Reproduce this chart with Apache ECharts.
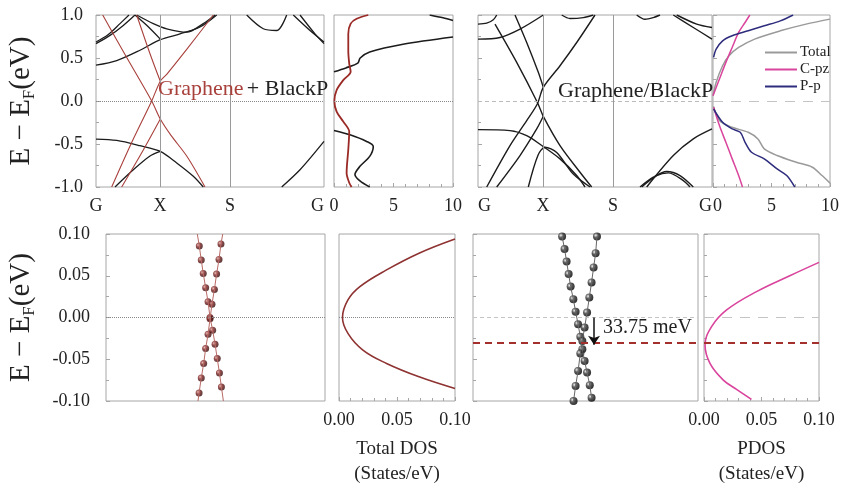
<!DOCTYPE html>
<html>
<head>
<meta charset="utf-8">
<script src="https://cdn.jsdelivr.net/npm/echarts@6/dist/echarts.min.js"></script>
<style>
html, body { margin: 0; padding: 0; background: #fff; }
#main { width: 842px; height: 490px; }
</style>
</head>
<body>
<div id="main"></div>
<script>
// k-path positions of the high-symmetry points (G, X, S, G)
var kTicksA = [0, 64, 134, 228];
var kTicksB = [0, 65, 135, 234];
var kNames = ['G', 'X', 'S', 'G'];

// ---- Graphene + BlackP bands (k, E) ----
var redA1 = [[6.7, 1.0], [30, 0.52], [55.7, 0], [64.3, -0.21], [75, -0.4], [90.7, -0.64], [109, -1.0]];
var redA2 = [[15.7, -1.0], [35, -0.5], [55.7, 0], [64.3, 0.23], [70.7, 0.31], [90.7, 0.6], [117.3, 1.0]];
var redA3 = [[40.7, 1.0], [54, 0.55], [64.3, 0.23]];
var redA4 = [[25.7, -1.0], [47.3, -0.57], [64.3, -0.21]];
var blkA1 = [[0, 0.667], [14, 0.763], [27.3, 0.879], [39, 1.0]];
var blkA1b = [[0, 0.686], [12, 0.77], [24, 0.9], [33, 1.0]];
var blkA2 = [[0, 0.416], [20.7, 0.47], [44, 0.59], [64.3, 0.713], [84, 0.78], [104, 0.86], [120.7, 1.0]];
var blkA3 = [[39, 1.0], [50.7, 0.88], [64.3, 0.72]];
var blkA4 = [[40.7, 1.0], [57.3, 0.9], [70.7, 0.84], [90.7, 0.80], [107.3, 0.9], [119, 1.0]];
var blkA5 = [[0, -0.443], [20.7, -0.459], [44, -0.52], [64.3, -0.586], [80.7, -0.72], [97.3, -0.875], [107.3, -1.0]];
var blkA6 = [[19, -1.0], [37.3, -0.8], [54, -0.64], [64.3, -0.586]];
var blkA7 = [[185.7, -1.0], [204, -0.8], [228, -0.47]];
var blkA8 = [[150.7, 1.0], [167.3, 0.84], [180.7, 0.82], [190.7, 1.0]];
var blkA9 = [[197.3, 1.0], [214, 0.82], [228, 0.686]];
var blkA10 = [[204, 1.0], [219, 0.78], [228, 0.667]];

// ---- total DOS, Graphene + BlackP (DOS, E) ----
var dosRed = [[2.88, 1.0], [1.9, 0.956], [1.4, 0.9], [1.2, 0.78], [1.2, 0.59], [1.28, 0.435], [1.4, 0.34], [0.78, 0.243], [0.22, 0.127], [0.03, 0], [0.22, -0.123], [0.78, -0.24], [1.28, -0.355], [1.2, -0.566], [1.06, -0.836], [1.28, -0.95], [1.48, -1.0]];
var dosBlkUp = [[0, 0.34], [1.0, 0.385], [2.0, 0.44], [2.2, 0.5], [3.0, 0.57], [5.8, 0.66], [10, 0.744]];
var dosBlkTop = [[8.04, 1.0], [9.16, 0.967], [10, 0.936]];
var dosBlkLow = [[0, -0.343], [1.34, -0.393], [2.74, -0.47], [3.3, -0.528], [3.0, -0.644], [2.18, -0.76], [1.76, -0.855], [2.18, -0.93], [3.0, -1.0]];

// ---- Graphene/BlackP bands (k, E) ----
var bandB = [
  [[17, 0.894], [38.7, 0.449], [59.3, -0.015], [65.3, -0.178], [82, -0.518], [102, -0.828], [113.7, -1.0]],
  [[8.7, -1.0], [32, -0.518], [48.7, -0.228], [59.3, -0.035], [65.3, 0.159], [82, 0.41], [98.7, 0.68], [117, 1.0]],
  [[37, 1.0], [48.7, 0.68], [60.3, 0.333], [65.3, 0.159]],
  [[18.7, -1.0], [42, -0.634], [58.7, -0.325], [65.3, -0.178]],
  [[0, -0.333], [32, -0.344], [48.7, -0.402], [65.3, -0.53], [82, -0.673], [98.7, -0.867], [107, -1.0]],
  [[50.3, -1.0], [60, -0.63], [67, -0.538], [78.7, -0.6], [95.3, -0.85], [112, -1.0]],
  [[0, 0.894], [8.7, 0.905], [15.3, 0.944], [18.7, 1.0]],
  [[0, 0.72], [22, 0.739], [42, 0.836], [65.3, 1.0]],
  [[83.7, 1.0], [92, 0.96], [105.3, 0.97], [115.3, 1.0]],
  [[158.7, 1.0], [167, 0.95], [175.3, 0.97], [182, 1.0]],
  [[195.3, 1.0], [215.3, 0.855], [234, 0.72]],
  [[198.7, 1.0], [218.7, 0.894], [234, 0.855]],
  [[162, -1.0], [175.3, -0.886], [188.7, -0.82], [202, -0.867], [215.3, -1.0]],
  [[163.7, -1.0], [178.7, -0.867], [190.3, -0.836], [205.3, -0.925], [212, -1.0]],
  [[168.7, -1.0], [195.3, -0.634], [215.3, -0.44], [234, -0.325]]
];

// ---- PDOS, Graphene/BlackP (DOS, E) ----
var totUp = [[0, 0.062], [0.27, 0.217], [0.82, 0.41], [1.37, 0.526], [2.19, 0.623], [3.56, 0.72], [5.75, 0.816], [7.95, 0.894], [10, 0.952]];
var totLow = [[0.05, -0.062], [0.55, -0.228], [1.64, -0.306], [3.01, -0.364], [3.84, -0.441], [4.38, -0.557], [5.48, -0.634], [7.12, -0.712], [8.49, -0.77], [9.32, -0.867], [10, -0.955]];
var cpzUp = [[0, 0.062], [0.55, 0.255], [1.1, 0.449], [1.64, 0.623], [2.19, 0.797], [2.74, 0.913], [3.15, 1.0]];
var cpzLow = [[0.05, -0.073], [0.55, -0.286], [1.1, -0.48], [1.64, -0.673], [2.19, -0.867], [2.52, -1.0]];
var ppUp = [[0.05, 0.507], [0.27, 0.603], [0.82, 0.7], [1.64, 0.758], [3.01, 0.816], [4.38, 0.874], [5.75, 0.932], [6.85, 1.0]];
var ppLow = [[0.05, -0.093], [0.82, -0.248], [1.64, -0.325], [2.33, -0.364], [2.74, -0.48], [3.29, -0.596], [4.38, -0.673], [5.48, -0.79], [6.3, -0.867], [6.99, -1.0]];

// ---- zoom near E_F: Graphene + BlackP (k, E) ----
var zoomA1 = [[42.6, 0.0856], [43.5, 0.0688], [44.4, 0.0528], [45.5, 0.0356], [46.6, 0.0188], [47.5, 0.0], [48.7, -0.0152], [49.8, -0.032], [50.8, -0.0492], [51.8, -0.0664], [52.7, -0.0832]];
var zoomA2 = [[52.5, 0.088], [51.6, 0.0696], [50.5, 0.052], [49.5, 0.0336], [48.4, 0.016], [47.5, -0.0016], [46.6, -0.02], [45.5, -0.0372], [44.6, -0.0552], [43.5, -0.0724], [42.5, -0.0904]];
var zoomA1Ends = [[41.7, 0.1], [53.6, -0.1]];
var zoomA2Ends = [[53.3, 0.1], [42.0, -0.1]];
var dosZoomA = [[0.1, 0.094], [0.069, 0.077], [0.041, 0.057], [0.018, 0.037], [0.0077, 0.021], [0.003, 0], [0.0077, -0.019], [0.0206, -0.039], [0.041, -0.055], [0.069, -0.071], [0.1, -0.085]];

// ---- zoom near E_F: Graphene/BlackP (k, E) ----
var zoomB1 = [[39.6, 0.097], [40.7, 0.082], [41.6, 0.067], [42.5, 0.052], [43.4, 0.037], [44.6, 0.022], [45.6, 0.007], [46.7, -0.008], [47.7, -0.023], [48.6, -0.038], [49.6, -0.052], [50.7, -0.066], [51.9, -0.081], [52.7, -0.096]];
var zoomB2 = [[55.1, 0.097], [54.5, 0.077], [53.6, 0.06], [52.7, 0.042], [51.7, 0.024], [50.7, 0.006], [49.6, -0.012], [48.6, -0.028], [47.7, -0.043], [46.7, -0.064], [45.6, -0.082], [44.7, -0.1]];
var pdosZoomB = [[0.1, 0.066], [0.0746, 0.05], [0.0457, 0.031], [0.0197, 0.009], [0.0066, -0.011], [0.0009, -0.033], [0.0052, -0.055], [0.0168, -0.075], [0.0283, -0.086], [0.0413, -0.098]];
var diracShift = -0.03375;
var arrowK = 53.8;

var FONT = 'Liberation Serif';
var AX = '#a6a6a6';
var RED = '#a8403c';
var BLK = '#1c1c1c';
var GRAY = '#9a9a9a';
var PINK = '#d9449c';
var NAVY = '#2e2c7c';

var chart = echarts.init(document.getElementById('main'));

function grid(l, t, w, h) {
  return { left: l, top: t, width: w, height: h, show: true, borderColor: AX, borderWidth: 1, backgroundColor: 'transparent' };
}

function labelStyle(extra) {
  var s = { fontFamily: FONT, fontSize: 18, color: '#222' };
  for (var k in extra) s[k] = extra[k];
  return s;
}

function kAxis(gi, ticks, max, alignMin, alignMax) {
  return {
    gridIndex: gi, type: 'value', min: 0, max: max,
    splitLine: { show: false }, axisLine: { show: false, onZero: false }, axisTick: { show: false },
    axisLabel: labelStyle({
      customValues: ticks, margin: 10,
      alignMinLabel: alignMin, alignMaxLabel: alignMax,
      formatter: function (v) { return kNames[ticks.indexOf(v)] || ''; }
    })
  };
}

function dosAxis(gi, max, interval, digits, alignMin, name) {
  var a = {
    gridIndex: gi, type: 'value', min: 0, max: max, interval: interval,
    splitLine: { show: false }, axisLine: { show: false, onZero: false },
    axisTick: { show: true, inside: true, length: 4, lineStyle: { color: AX } },
    minorTick: { show: true, splitNumber: 5, length: 3, lineStyle: { color: AX } },
    axisLabel: labelStyle({
      margin: 10, alignMinLabel: alignMin,
      formatter: function (v) { return (Math.abs(v) < 1e-9 ? 0 : v).toFixed(digits); }
    })
  };
  if (name) {
    a.name = name;
    a.nameLocation = 'middle';
    a.nameGap = 36;
    a.nameTextStyle = { fontFamily: FONT, fontSize: 19, color: '#222', lineHeight: 25, verticalAlign: 'top' };
  }
  return a;
}

function plainX(gi) {
  return { gridIndex: gi, type: 'value', min: 0, max: 100, splitLine: { show: false }, axisLine: { show: false, onZero: false }, axisTick: { show: false }, axisLabel: { show: false } };
}

function eAxis(gi, lim, interval, digits, showLabel, ticks, nameGap, margin) {
  var a = {
    gridIndex: gi, type: 'value', min: -lim, max: lim, interval: interval,
    splitLine: { show: false }, axisLine: { show: false, onZero: false },
    axisTick: { show: ticks, inside: true, length: 4, lineStyle: { color: AX } },
    minorTick: { show: ticks, splitNumber: 2, length: 3, lineStyle: { color: AX } },
    axisLabel: labelStyle({
      show: showLabel, margin: margin || 13,
      formatter: function (v) { return (Math.abs(v) < 1e-9 ? 0 : v).toFixed(digits); }
    })
  };
  if (nameGap) {
    a.name = '{e|E − E}{s|F}{e|(eV)}';
    a.nameLocation = 'middle';
    a.nameGap = nameGap;
    a.nameTextStyle = {
      fontFamily: FONT, fontSize: 29, color: '#222',
      rich: {
        e: { fontFamily: FONT, fontSize: 29, color: '#222', lineHeight: 34 },
        s: { fontFamily: FONT, fontSize: 17, color: '#222', lineHeight: 34, verticalAlign: 'bottom' }
      }
    };
  }
  return a;
}

function curve(gi, data, color, width, extra) {
  var s = {
    type: 'line', xAxisIndex: gi, yAxisIndex: gi, data: data,
    symbol: 'none', smooth: 0.3, silent: true,
    itemStyle: { color: color },
    lineStyle: { color: color, width: width }
  };
  if (extra) for (var k in extra) s[k] = extra[k];
  return s;
}

function hLine(y, color, type, width) { return { yAxis: y, lineStyle: { color: color, type: type, width: width || 1 } }; }
function vLine(x) { return { xAxis: x, lineStyle: { color: GRAY, type: 'solid', width: 1 } }; }
function marks(lines) { return { silent: true, symbol: ['none', 'none'], label: { show: false }, animation: false, data: lines }; }

var sphereRed = new echarts.graphic.RadialGradient(0.35, 0.35, 0.65, [
  { offset: 0, color: '#e8b0a8' }, { offset: 0.45, color: '#7a2020' }, { offset: 1, color: '#3a0c0c' }
]);
var sphereBlk = new echarts.graphic.RadialGradient(0.35, 0.35, 0.65, [
  { offset: 0, color: '#eeeeee' }, { offset: 0.45, color: '#333333' }, { offset: 1, color: '#000000' }
]);

var series = [];

// panel 0: Graphene + BlackP bands
series.push(curve(0, blkA5, BLK, 1.3, { markLine: marks([hLine(0, '#888', 'dotted'), vLine(kTicksA[1]), vLine(kTicksA[2])]) }));
[blkA1, blkA1b, blkA2, blkA3, blkA4, blkA6, blkA7, blkA8, blkA9, blkA10].forEach(function (d) { series.push(curve(0, d, BLK, 1.3)); });
[redA1, redA2, redA3, redA4].forEach(function (d) { series.push(curve(0, d, RED, 1.1)); });

// panel 1: total DOS
series.push(curve(1, dosBlkUp, BLK, 1.6, { markLine: marks([hLine(0, '#888', 'dotted')]) }));
series.push(curve(1, dosBlkTop, BLK, 1.6));
series.push(curve(1, dosBlkLow, BLK, 1.6));
series.push(curve(1, dosRed, '#9a2a26', 1.8));

// panel 2: Graphene/BlackP bands
bandB.forEach(function (d, i) {
  series.push(curve(2, d, BLK, 1.4, i === 0 ? { markLine: marks([hLine(0, '#bbb', [4, 3]), vLine(kTicksB[1]), vLine(kTicksB[2])]) } : null));
});

// panel 3: PDOS
series.push(curve(3, totUp, GRAY, 1.5, { name: 'Total', markLine: marks([hLine(0, '#c4c4c4', [10, 8])]) }));
series.push(curve(3, totLow, GRAY, 1.5, { name: 'Total' }));
series.push(curve(3, cpzUp, PINK, 1.5, { name: 'C-pz' }));
series.push(curve(3, cpzLow, PINK, 1.5, { name: 'C-pz' }));
series.push(curve(3, ppUp, NAVY, 1.5, { name: 'P-p' }));
series.push(curve(3, ppLow, NAVY, 1.5, { name: 'P-p' }));

// panel 4: zoom bands Graphene + BlackP
series.push(curve(4, [zoomA1Ends[0]].concat(zoomA1, [zoomA1Ends[1]]), '#b86a66', 1, { smooth: false, markLine: marks([hLine(0, '#888', 'dotted')]) }));
series.push(curve(4, [zoomA2Ends[0]].concat(zoomA2, [zoomA2Ends[1]]), '#b86a66', 1, { smooth: false }));
[zoomA1, zoomA2].forEach(function (d) {
  series.push({ type: 'scatter', xAxisIndex: 4, yAxisIndex: 4, data: d, symbolSize: 7, silent: true, itemStyle: { color: sphereRed } });
});

// panel 5: total DOS zoom
series.push(curve(5, dosZoomA, '#8e3232', 1.6, { smooth: 0.4, markLine: marks([hLine(0, '#888', 'dotted')]) }));

// panel 6: zoom bands Graphene/BlackP
series.push(curve(6, zoomB1, '#666', 1, { smooth: false, markLine: marks([hLine(0, '#c4c4c4', [4, 3]), hLine(diracShift, '#a3302c', [7, 5], 2)]) }));
series.push(curve(6, zoomB2, '#666', 1, {
  smooth: false,
  markLine: {
    silent: true, symbol: ['none', 'arrow'], symbolSize: 9, label: { show: false }, animation: false,
    lineStyle: { color: '#111', type: 'solid', width: 1.5 },
    data: [[{ coord: [arrowK, 0] }, { coord: [arrowK, diracShift + 0.001] }]]
  }
}));
[zoomB1, zoomB2].forEach(function (d) {
  series.push({ type: 'scatter', xAxisIndex: 6, yAxisIndex: 6, data: d, symbolSize: 8, silent: true, itemStyle: { color: sphereBlk } });
});

// panel 7: PDOS zoom
series.push(curve(7, pdosZoomB, PINK, 1.6, { smooth: 0.4, markLine: marks([hLine(0, '#c4c4c4', [10, 8]), hLine(diracShift, '#a3302c', [7, 5], 2)]) }));

var option = {
  animation: false,
  backgroundColor: '#fff',
  grid: [
    grid(96, 15, 228, 172),
    grid(334, 15, 119, 172),
    grid(478, 15, 234, 172),
    grid(713, 15, 120, 172),
    grid(106, 234, 219, 167),
    grid(339, 234, 116, 167),
    grid(473, 234, 225, 167),
    grid(704, 234, 115, 167)
  ],
  xAxis: [
    kAxis(0, kTicksA, 228, null, 'right'),
    dosAxis(1, 10, 5, 0, null, null),
    kAxis(2, kTicksB, 234, 'left', 'right'),
    dosAxis(3, 10, 5, 0, 'left', null),
    plainX(4),
    dosAxis(5, 0.1, 0.05, 2, null, 'Total DOS\n(States/eV)'),
    plainX(6),
    dosAxis(7, 0.1, 0.05, 2, null, 'PDOS\n(States/eV)')
  ],
  yAxis: [
    eAxis(0, 1, 0.5, 1, true, true, 58, 13),
    eAxis(1, 1, 0.5, 1, false, false),
    eAxis(2, 1, 0.5, 1, false, true),
    eAxis(3, 1, 0.5, 1, false, true),
    eAxis(4, 0.1, 0.05, 2, true, true, 68, 16),
    eAxis(5, 0.1, 0.05, 2, false, false),
    eAxis(6, 0.1, 0.05, 2, false, true),
    eAxis(7, 0.1, 0.05, 2, false, true)
  ],
  legend: {
    data: ['Total', 'C-pz', 'P-p'], orient: 'vertical', left: 760, top: 40,
    icon: 'rect', itemWidth: 32, itemHeight: 2, itemGap: 2, selectedMode: false,
    textStyle: { fontFamily: FONT, fontSize: 15, color: '#222', padding: [0, 0, 0, -2] }
  },
  graphic: [
    {
      type: 'text', left: 158, top: 78, z: 10,
      style: {
        text: '{r|Graphene} {k|+ BlackP}',
        rich: {
          r: { fill: '#a8403c', fontFamily: FONT, fontSize: 22 },
          k: { fill: '#222', fontFamily: FONT, fontSize: 22 }
        }
      }
    },
    { type: 'text', left: 558, top: 80, z: 10, style: { text: 'Graphene/BlackP', fill: '#222', fontFamily: FONT, fontSize: 22 } },
    { type: 'text', left: 603, top: 318, z: 10, style: { text: '33.75 meV', fill: '#222', fontFamily: FONT, fontSize: 20 } }
  ],
  series: series
};

chart.setOption(option);
</script>
</body>
</html>
